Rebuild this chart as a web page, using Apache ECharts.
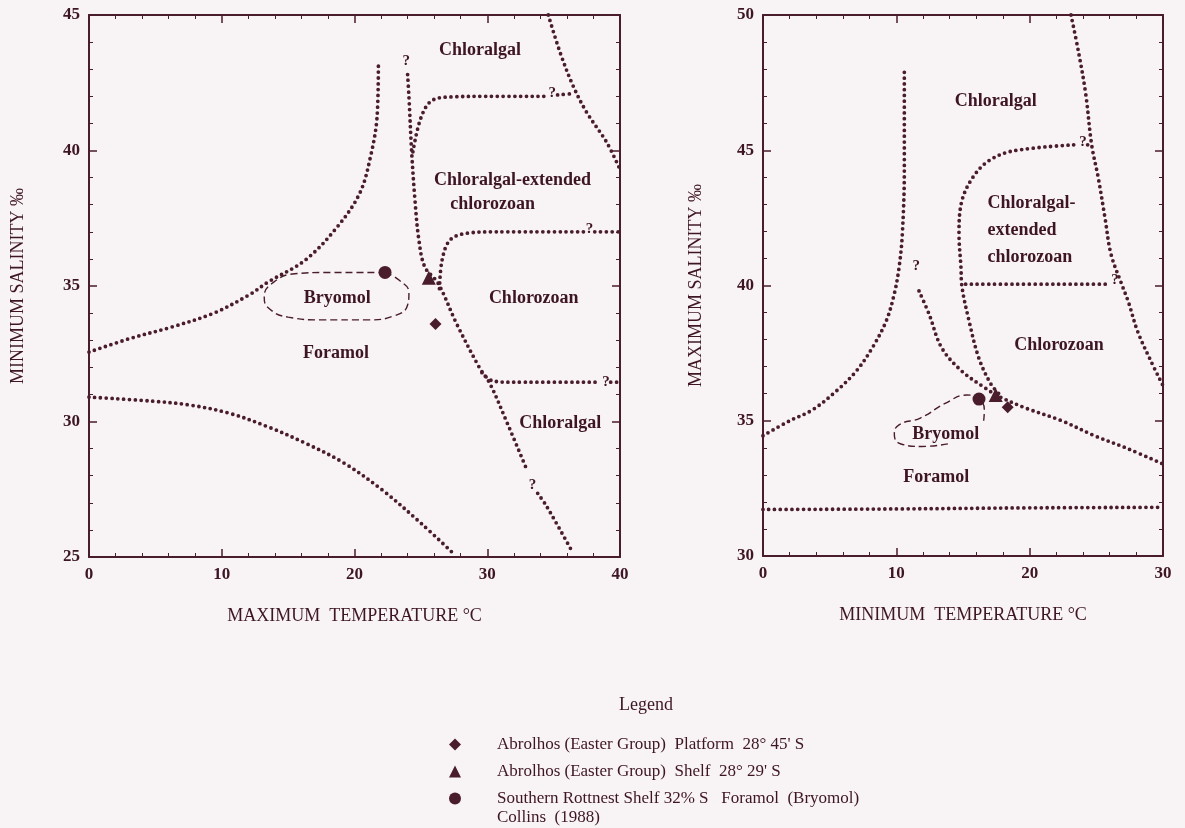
<!DOCTYPE html>
<html><head><meta charset="utf-8">
<script src="https://cdn.jsdelivr.net/npm/echarts@6/dist/echarts.min.js"></script>
<style>html,body{margin:0;padding:0;background:#f8f3f5}#c{width:1185px;height:828px}</style>
</head><body><div id="c"></div><script>
// ---------- LEFT PANEL: maximum temperature (x) vs minimum salinity (y) ----------
const leftForamolUpper = [[0,32.56],[3,33.05],[6.25,33.49],[9.4,34.0],[12.05,34.67],[13.5,35.15],[16.3,35.96],[18.7,37.18],[20.4,38.43],[21.2,39.76],[21.7,41.24],[21.8,43.2]];
const leftCentral = [[24.0,42.8],[24.1,42.0],[24.3,40.0],[24.55,38.2],[24.85,36.7],[25.3,35.7],[26.3,35.1],[27.7,33.6],[29.4,32.0],[30.2,31.4],[31.5,29.95],[33.0,28.2]];
const leftCentralLow = [[33.8,27.35],[34.5,26.85],[36.4,25.2]];
const leftExtUpper = [[24.4,39.95],[25.0,41.2],[25.85,41.85],[27.5,41.98],[30,42.0],[34.3,42.0]];
const leftExtUpperTail = [[35.3,42.05],[36.5,42.1]];
const leftSteep = [[34.6,45],[35.5,43.6],[36.5,42.35],[37.5,41.4],[39.0,40.3],[40,39.3]];
const leftChlorozoanUpper = [[26.4,34.9],[26.6,35.96],[27.2,36.7],[28.5,36.95],[30.7,37.0],[37.3,37.0]];
const leftChlorozoanUpperTail = [[38.1,37.0],[40,37.0]];
const leftChlorozoanLower = [[29.6,31.8],[30.4,31.5],[31.9,31.45],[38.5,31.45]];
const leftChlorozoanLowerTail = [[39.3,31.45],[40,31.45]];
const leftForamolLower = [[0,30.9],[4.8,30.75],[7.7,30.6],[10.6,30.3],[13.5,29.8],[16.3,29.2],[19.2,28.47],[22.1,27.47],[25.0,26.25],[27.3,25.2]];
const leftBryomolOutline = [[22.3,35.5],[23.4,35.2],[24.1,34.75],[24.0,34.3],[23.0,33.9],[21.0,33.75],[17.5,33.75],[15.0,33.85],[13.5,34.2],[13.2,34.6],[13.8,35.1],[15.5,35.45],[18.0,35.5],[22.3,35.5]];
const leftPlatform = [[26.1,33.6]];
const leftShelf = [[25.6,35.3]];
const leftRottnest = [[22.3,35.5]];
const leftZoneLabels = [[29.45,43.7,'Chloralgal'],[31.9,38.9,'Chloralgal-extended'],[30.4,38.0,'chlorozoan'],[18.7,34.55,'Bryomol'],[33.5,34.55,'Chlorozoan'],[18.6,32.5,'Foramol'],[35.5,29.95,'Chloralgal']];
const leftQuestionMarks = [[23.9,43.3],[34.9,42.1],[37.7,37.1],[38.95,31.45],[33.4,27.65]];

// ---------- RIGHT PANEL: minimum temperature (x) vs maximum salinity (y) ----------
const rightForamolLeft = [[0,34.45],[2.0,35.0],[3.7,35.4],[5.5,36.1],[7.0,36.84],[8.2,37.7],[9.25,38.7],[9.85,39.7],[10.2,40.65],[10.45,41.9],[10.6,44.3],[10.6,47.9]];
const rightForamolRight = [[11.7,39.8],[12.45,38.95],[13.4,37.7],[14.9,36.84],[16.7,36.2],[17.7,35.9],[19.7,35.47],[22.4,35.0],[24.9,34.44],[27.4,33.96],[30,33.4]];
const rightChlorozoanLeft = [[23.3,45.2],[18.7,44.97],[16.9,44.6],[15.7,43.97],[14.9,43.1],[14.7,41.9],[14.85,40.65],[14.9,40.05],[15.45,38.7],[16.2,37.3],[17.1,36.35],[17.7,36.0]];
const rightTail45 = [[24.35,45.2],[24.65,45.2]];
const rightExt40 = [[15.2,40.05],[25.9,40.05]];
const rightSteep = [[23.1,50],[23.65,48.67],[24.2,47.1],[24.65,45.2],[25.15,43.97],[25.65,42.5],[26.1,41.16],[26.9,40.05],[27.4,39.4],[28.1,38.3],[29.1,37.2],[30,36.3]];
const rightBottom = [[0,31.72],[10,31.74],[20,31.78],[30,31.8]];
const rightBryomolOutline = [[16.55,35.0],[16.6,35.4],[16.2,35.8],[15.3,35.95],[13.7,35.65],[11.8,35.1],[10.2,34.85],[9.85,34.5],[10.3,34.15],[11.9,34.05],[13.9,34.15]];
const rightPlatform = [[18.35,35.5]];
const rightShelf = [[17.45,35.95]];
const rightRottnest = [[16.2,35.8]];
const rightZoneLabels = [[17.45,46.8,'Chloralgal'],[22.2,37.8,'Chlorozoan'],[13.7,34.5,'Bryomol'],[13.0,32.9,'Foramol']];
const rightExtLabel = [[16.8,42.05,'Chloralgal-\nextended\nchlorozoan']];
const rightQuestionMarks = [[11.5,40.7],[24.0,45.3],[26.4,40.2]];

// ---------- Text ----------
const leftXTitle = 'MAXIMUM  TEMPERATURE °C';
const leftYTitle = 'MINIMUM SALINITY ‰';
const rightXTitle = 'MINIMUM  TEMPERATURE °C';
const rightYTitle = 'MAXIMUM SALINITY ‰';
const legendTitle = 'Legend';
const nPlatform = "Abrolhos (Easter Group)  Platform  28° 45' S";
const nShelf = "Abrolhos (Easter Group)  Shelf  28° 29' S";
const nRottnest = "Southern Rottnest Shelf 32% S   Foramol  (Bryomol)";
const rottnestSource = "Collins  (1988)";

const ink = '#4a1d2d';
const textInk = '#3d1524';
const FONT = 'Liberation Serif';

function xAx(gi, max, pos, name) {
  const main = pos === 'bottom';
  return {
    type: 'value', gridIndex: gi, position: pos, min: 0, max: max, interval: 10,
    name: main ? name : '', nameLocation: 'middle', nameGap: 50,
    nameTextStyle: {fontFamily: FONT, fontSize: 18, color: textInk},
    axisLine: {show: true, onZero: false, lineStyle: {color: ink, width: 2}},
    axisTick: {show: true, inside: true, length: 8, lineStyle: {color: ink, width: 1.5}},
    minorTick: {show: true, splitNumber: 5, length: 4, lineStyle: {color: ink, width: 1}},
    axisLabel: {show: main, margin: 9, fontFamily: FONT, fontSize: 17, fontWeight: 'bold', color: textInk},
    splitLine: {show: false}
  };
}
function yAx(gi, min, max, pos, name, gap) {
  const main = pos === 'left';
  return {
    type: 'value', gridIndex: gi, position: pos, min: min, max: max, interval: 5,
    name: main ? name : '', nameLocation: 'middle', nameGap: gap || 60,
    nameTextStyle: {fontFamily: FONT, fontSize: 18, color: textInk},
    axisLine: {show: true, onZero: false, lineStyle: {color: ink, width: 2}},
    axisTick: {show: true, inside: true, length: 8, lineStyle: {color: ink, width: 1.5}},
    minorTick: {show: true, splitNumber: 5, length: 4, lineStyle: {color: ink, width: 1}},
    axisLabel: {show: main, margin: 9, fontFamily: FONT, fontSize: 17, fontWeight: 'bold', color: textInk},
    splitLine: {show: false}
  };
}

function dotted(data, xi, yi) {
  return {type: 'line', xAxisIndex: xi, yAxisIndex: yi, data: data, showSymbol: false, symbol: 'none',
    smooth: 0.35, silent: true, lineStyle: {color: ink, width: 3.8, type: [0, 5.8], cap: 'round'}};
}
function dashed(data, xi, yi) {
  return {type: 'line', xAxisIndex: xi, yAxisIndex: yi, data: data, showSymbol: false, symbol: 'none',
    smooth: 0.5, silent: true, lineStyle: {color: ink, width: 1.4, type: [7, 4]}};
}
function marker(name, sym, size, data, xi, yi) {
  return {type: 'scatter', name: name, xAxisIndex: xi, yAxisIndex: yi, symbol: sym, symbolSize: size,
    data: data, itemStyle: {color: ink, opacity: 1}, z: 5};
}
function labels(arr, xi, yi, size, pos) {
  return {type: 'scatter', xAxisIndex: xi, yAxisIndex: yi, symbolSize: 1, silent: true,
    itemStyle: {color: 'rgba(0,0,0,0)', opacity: 1},
    data: arr.map(a => ({value: [a[0], a[1]], name: a[2] || '?'})),
    label: {show: true, position: pos || 'inside', distance: 0, formatter: '{b}', fontFamily: FONT,
      fontSize: size, fontWeight: 'bold', color: textInk, lineHeight: 27, opacity: 1}};
}

const series = [
  dotted(leftForamolUpper,0,0), dotted(leftCentral,0,0), dotted(leftCentralLow,0,0),
  dotted(leftExtUpper,0,0), dotted(leftExtUpperTail,0,0), dotted(leftSteep,0,0),
  dotted(leftChlorozoanUpper,0,0), dotted(leftChlorozoanUpperTail,0,0),
  dotted(leftChlorozoanLower,0,0), dotted(leftChlorozoanLowerTail,0,0),
  dotted(leftForamolLower,0,0),
  dashed(leftBryomolOutline,0,0),
  labels(leftZoneLabels,0,0,18), labels(leftQuestionMarks,0,0,15),
  marker(nPlatform,'diamond',12,leftPlatform,0,0),
  marker(nShelf,'triangle',14,leftShelf,0,0),
  marker(nRottnest,'circle',13,leftRottnest,0,0),

  dotted(rightForamolLeft,2,2), dotted(rightForamolRight,2,2), dotted(rightChlorozoanLeft,2,2),
  dotted(rightTail45,2,2), dotted(rightExt40,2,2), dotted(rightSteep,2,2), dotted(rightBottom,2,2),
  dashed(rightBryomolOutline,2,2),
  labels(rightZoneLabels,2,2,18), labels(rightExtLabel,2,2,18,'right'), labels(rightQuestionMarks,2,2,15),
  marker(nPlatform,'diamond',12,rightPlatform,2,2),
  marker(nShelf,'triangle',14,rightShelf,2,2),
  marker(nRottnest,'circle',13,rightRottnest,2,2)
];

const chart = echarts.init(document.getElementById('c'), null, {renderer: 'canvas'});
chart.setOption({
  backgroundColor: '#f8f3f5',
  animation: false,
  title: {text: legendTitle, left: 619, top: 696, padding: 0, textStyle: {fontFamily: FONT, fontSize: 18, fontWeight: 'normal', color: textInk}},
  legend: {
    orient: 'vertical', left: 449, top: 736, padding: 0, itemWidth: 12, itemHeight: 12, itemGap: 10,
    selectedMode: false,
    textStyle: {fontFamily: FONT, fontSize: 17, color: textInk, padding: [0, 0, 0, 31]},
    data: [
      {name: nPlatform, icon: 'diamond'},
      {name: nShelf, icon: 'triangle'},
      {name: nRottnest, icon: 'circle'}
    ]
  },
  graphic: [{type: 'text', left: 497, top: 809, style: {text: rottnestSource, fontFamily: FONT, fontSize: 17, fill: textInk}}],
  grid: [
    {left: 89, top: 15, width: 531, height: 542},
    {left: 763, top: 15, width: 400, height: 541}
  ],
  xAxis: [xAx(0, 40, 'bottom', leftXTitle), xAx(0, 40, 'top'), xAx(1, 30, 'bottom', rightXTitle), xAx(1, 30, 'top')],
  yAxis: [yAx(0, 25, 45, 'left', leftYTitle, 62), yAx(0, 25, 45, 'right'), yAx(1, 30, 50, 'left', rightYTitle, 58), yAx(1, 30, 50, 'right')],
  series: series
});
</script></body></html>
